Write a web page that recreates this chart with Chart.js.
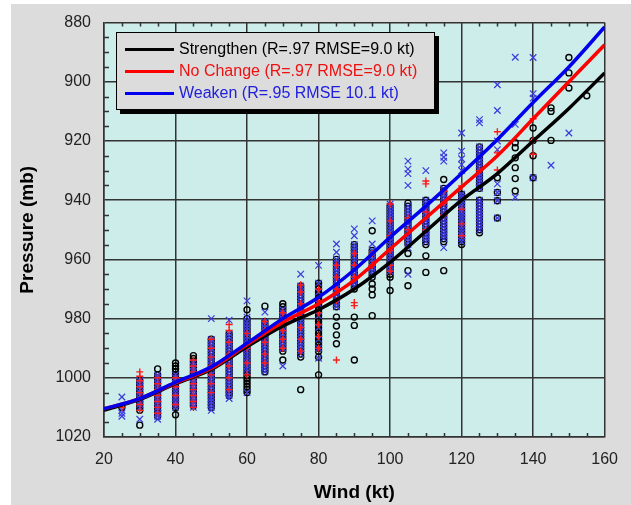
<!DOCTYPE html>
<html><head><meta charset="utf-8">
<script src="https://cdn.jsdelivr.net/npm/chart.js@4"></script>
<style>
html,body{margin:0;padding:0;background:#fff;}
#wrap{position:relative;width:631px;height:505px;overflow:hidden;}
#panel{position:absolute;left:11px;top:4px;right:0;bottom:0;background:#dcdcdc;}
canvas{position:absolute;left:0;top:0;}
#legend{position:absolute;left:116px;top:32px;width:319px;height:78px;box-sizing:border-box;border:1px solid #000;background:#dcdcdc;box-shadow:4px 4px 0 #000;font:16px "Liberation Sans",Arial,sans-serif;}
.row{position:absolute;left:8px;height:20px;display:flex;align-items:center;white-space:nowrap;}
.row i{display:block;width:49px;height:3px;margin-right:5px;}
</style></head>
<body><div id="wrap"><div id="panel"></div><canvas id="c" width="631" height="505"></canvas>
<div id="legend">
 <div class="row" style="top:6px;color:#000"><i style="background:#000"></i>Strengthen (R=.97 RMSE=9.0 kt)</div>
 <div class="row" style="top:28px;color:#ee1111"><i style="background:#ff0000"></i>No Change (R=.97 RMSE=9.0 kt)</div>
 <div class="row" style="top:50px;color:#2020dd"><i style="background:#0000ee"></i>Weaken (R=.95 RMSE 10.1 kt)</div>
</div></div>
<script>
const xTicks = [20,40,60,80,100,120,140,160];
const yTicks = [880,900,920,940,960,980,1000,1020];

const curveWind  = [20,30,40,50,60,70,80,90,100,110,120,130,140,150,160];
const curveStrengthen = [1011,1007.3,1002,997.2,989.5,982.5,977,970,961,950.5,940,931,920,909,897];
const curveNoChange   = [1010.5,1007,1001.7,996.8,988.8,981.2,975,967,956.5,946,935.5,925,912.5,900,887.5];
const curveWeaken     = [1010.5,1007,1001.5,996.3,988.3,980,972.8,963.5,952.5,942,931,919.5,907,895,881.5];

// observations: [wind, pressure, pressure, ...] per column
const strengthenObs = [
 [25,1010],
 [30,1001,1002,1003,1004,1005,1006,1007,1008,1009,1010,1011,1016],
 [35,997,999,1000,1001,1002,1003,1004,1005,1006,1007,1008,1009,1010,1011,1012,1013],
 [40,995,996,997,998,999,1000,1001,1002,1003,1004,1005,1006,1007,1008,1009,1010,1012.5],
 [45,992.5,993.5,994.5,995.5,996.5,997.5,998.5,999.5,1000.5,1001.5,1002.5,1003.5,1004.5,1005.5,1006.5,1007.5,1008.5,1009.5],
 [50,987,988,989,990,991,992,993,994,995,996,997,998,999,1000,1001,1002,1003,1004,1005,1006,1007,1008,1009,1010],
 [55,985,986,987,988,989,990,991,992,993,994,995,996,997,998,999,1000,1001,1002,1003,1004,1005,1006],
 [60,977,980,981,982,983,984,985,986,987,988,989,990,991,992,993,994,995,996,997,998,999,1000,1001,1002,1003,1004,1005],
 [65,975.8,981,982,983,984,985,986,987,988,989,990,991,992,993,994,995,996,997,998],
 [70,975,976,977,978,979,980,981,982,983,984,985,986,987,988,989,990,991,994],
 [75,969,970,971,972,973,974,975,976,977,978,979,980,981,982,983,984,985,986,987,988,989,990,991,992,993,1004],
 [80,968,969,970,971,972,973,974,975,976,977,978,979,980,981,982,983,984,985,986,987,988,989,990,991,993,999],
 [85,960,961,962,963,964,965,966,967,968,969,970,971,972,973,974,975,976,979.5,982.5,985.5,988.5],
 [90,955,956,957,958,959,960,961,962,963,964,965,966,967,968,969,970,979.5,982.3,994],
 [95,950.3,957,958,959,960,961,962,963,964,965,966,968.3,970,972,979],
 [100,942,943,944,945,946,947,948,949,950,951,952,953,954,955,956,957,958,959,960,961,962,963,964,965,966,970.5],
 [105,941,942,943,944,945,946,947,948,949,950,951,952,953,954,955,958,963.8,968.9],
 [110,940,941,942,943,944,945,946,947,948,949,950,951,952,953,954,955,958.8,964.4],
 [115,933,936,937,938,939,940,941,942,943,944,945,946,947,948,949,950,951,952,953,954,963.8],
 [120,938,939,940,941,942,943,944,945,946,947,948,949,950,951,952,953,954,955],
 [125,922,923,924,925,926,927,928,929,930,931,932,933,934,935,936,940,941,942,943,944,945,946,947,948,949,950,951],
 [130,932.4,937.4,940.2,946],
 [135,920.6,922.3,925.7,929,932.7,936.9],
 [140,915.6,919.8,925,932.4],
 [145,908.8,910,919.8],
 [150,891.8,897,902.1],
 [155,904.7]
];
const noChangeObs = [
 [25,1010],
 [30,998,999.5,1001,1003,1005,1007,1009,1011],
 [35,1000,1002,1004,1006,1008,1010,1012],
 [40,1000,1003,1006,1009],
 [45,994,996,998,1000,1002,1004,1006,1008,1010],
 [50,987,990,993,996,999,1002,1005],
 [55,982,984,988,992,996,1000,1004],
 [60,985,990,995,999],
 [65,981,984,988,992,995],
 [70,978,981,984,987,990],
 [75,968.6,971,975,979,983,987,991],
 [80,970,974,978,982,986,990],
 [85,962,966,970,974,994],
 [90,958,962,966,974.6,975.6],
 [95,958,962],
 [100,941.3,947,952,957,962,964],
 [105,946,950],
 [110,933.5,934.5,944,950],
 [115,937,941,945],
 [120,935.2,943,948,952],
 [125,930],
 [130,916.9,924,929.8],
 [140,912.5,919.8,924.5]
];
const weakenObs = [
 [25,1006.5,1011,1012,1013],
 [30,1001,1002,1003,1004,1005,1006,1007,1008,1009,1010,1014],
 [35,999,1000,1001,1002,1003,1004,1005,1006,1007,1008,1009,1010,1011,1012,1013,1014],
 [40,999,1000,1001,1002,1003,1004,1005,1006,1007,1008,1009,1010],
 [45,995,996,997,998,999,1000,1001,1002,1003,1004,1005,1006,1007,1008,1009,1010],
 [50,980,987,988,989,990,991,992,993,994,995,996,997,998,999,1000,1001,1002,1003,1004,1005,1006,1007,1008,1009,1010,1011],
 [55,980.5,985,986,987,988,989,990,991,992,993,994,995,996,997,998,999,1000,1001,1002,1003,1004,1005,1006,1007],
 [60,974,979.5,981,982,983,984,985,986,987,988,989,990,991,992,993,994,995,996,997,998,1005],
 [65,977.8,981,982,983,984,985,986,987,988,989,990,991,992,993,994,995,996,997,998],
 [70,977,978,979,980,981,982,983,984,985,986,987,988,989,990,996],
 [75,965,969,970,971,972,973,974,975,976,977,978,979,980,981,982,983,984,985,986,987,988,989,990,991,992],
 [80,962,968,971,975,979,983,987,990,993.4],
 [85,954.8,957.6,960,961,962,963,964,965,966,967,968,969,970,971,972,973,974,975,976],
 [90,949.7,952,955,956,957,958,959,960,961,962,963,964,965,966,967,968,969],
 [95,947,954.8,957,958,959,960,961,962,963,964,965],
 [100,941.3,942,943,944,945,946,947,948,949,950,951,952,953,954,955,956,957,958,959,960,961,962,963,964],
 [105,926.8,929.5,931,935,942,943,944,945,946,947,948,949,950,951,952,953,954,955,956,965],
 [110,930,940,941,942,943,944,945,946,947,948,949,950,951,952,953,954],
 [115,924,925.5,926.8,936,937,938,939,940,941,942,943,944,945,946,947,948,949,950,951,952,953,956],
 [120,917.3,923.4,926,928,930,938,939,940,941,942,943,944,945,946,947,948,949,950,951,952,953,954],
 [125,912.8,913.9,922,923,924,925,926,927,928,929,930,931,932,933,934,935,936,940,941,942,943,944,945,946,947,948,949,950],
 [130,901,909.7,920,922.9,934.5,937.4,940.2,946],
 [135,891.7,914.4,939],
 [140,891.8,904,905.5,932.4],
 [145,928.2],
 [150,917.3]
];

const toPts = cols => cols.flatMap(c => c.slice(1).map(p => ({x:c[0], y:p})));
const toCurve = ys => curveWind.map((w,i) => ({x:w, y:ys[i]}));

const plotBg = '#ccede9';
const gridColor = '#333333';

const decor = {
  id:'decor',
  beforeDraw(chart){
    const {ctx, chartArea:a} = chart;
    ctx.save(); ctx.fillStyle = plotBg;
    ctx.fillRect(a.left, a.top, a.right-a.left, a.bottom-a.top); ctx.restore();
  },
  beforeDatasetsDraw(chart){
    const {ctx, chartArea:a, scales:{x,y}} = chart;
    ctx.save(); ctx.strokeStyle = gridColor; ctx.lineWidth = 1.5; ctx.beginPath();
    for (let w = 25; w < 160; w += 5) {
      if (w % 20 === 0) continue;
      const px = Math.round(x.getPixelForValue(w)) + 0.5;
      ctx.moveTo(px, a.top); ctx.lineTo(px, a.top + 4);
      ctx.moveTo(px, a.bottom); ctx.lineTo(px, a.bottom - 4);
    }
    for (let p = 885; p < 1020; p += 5) {
      if (p % 20 === 0) continue;
      const py = Math.round(y.getPixelForValue(p)) + 0.5;
      ctx.moveTo(a.left, py); ctx.lineTo(a.left + 5, py);
    }
    ctx.stroke(); ctx.restore();
  }
};

Chart.defaults.font.family = '"Liberation Sans", Arial, sans-serif';

new Chart(document.getElementById('c'), {
  data: {
    datasets: [
      {type:'line', data:toCurve(curveWeaken), borderColor:'#0000ee', borderWidth:3.5, pointRadius:0, cubicInterpolationMode:'monotone', order:0},
      {type:'line', data:toCurve(curveNoChange), borderColor:'#ff0000', borderWidth:3.5, pointRadius:0, cubicInterpolationMode:'monotone', order:1},
      {type:'line', data:toCurve(curveStrengthen), borderColor:'#000000', borderWidth:3.5, pointRadius:0, cubicInterpolationMode:'monotone', order:2},
      {type:'scatter', data:toPts(noChangeObs), pointStyle:'cross', pointRadius:3.5, borderColor:'#ff1a1a', borderWidth:1.4, order:3},
      {type:'scatter', data:toPts(weakenObs), pointStyle:'crossRot', pointRadius:4.6, borderColor:'#3b3bdd', borderWidth:1.2, order:4},
      {type:'scatter', data:toPts(strengthenObs), pointStyle:'circle', pointRadius:3, backgroundColor:'rgba(0,0,0,0)', borderColor:'#000', borderWidth:1.4, order:5}
    ]
  },
  options: {
    responsive:false, animation:false, events:[],
    layout:{padding:{left:0,right:21,top:21,bottom:0}},
    plugins:{legend:{display:false}, tooltip:{enabled:false}},
    scales:{
      x:{type:'linear', min:20, max:160,
        afterBuildTicks(s){ s.ticks = xTicks.map(v=>({value:v})); },
        afterFit(s){ s.height = 68; },
        grid:{color:gridColor, lineWidth:1.5, drawTicks:false},
        border:{color:gridColor, width:1.5},
        ticks:{padding:13, color:'#222', font:{size:16}, maxRotation:0, callback:v=>String(v)},
        title:{display:true, text:'Wind (kt)', color:'#000', font:{size:19, weight:'bold'}, padding:{top:0,bottom:1}}
      },
      y:{type:'linear', min:880, max:1020, reverse:true,
        afterBuildTicks(s){ s.ticks = yTicks.map(v=>({value:v})); },
        afterFit(s){ s.width = 104; },
        grid:{color:gridColor, lineWidth:1.5, drawTicks:false},
        border:{color:gridColor, width:1.5},
        ticks:{padding:13, color:'#222', font:{size:16}, callback:v=>String(v)},
        title:{display:true, text:'Pressure (mb)', color:'#000', font:{size:19, weight:'bold'}, padding:{top:16,bottom:0}}
      }
    }
  },
  plugins:[decor]
});
</script></body></html>
